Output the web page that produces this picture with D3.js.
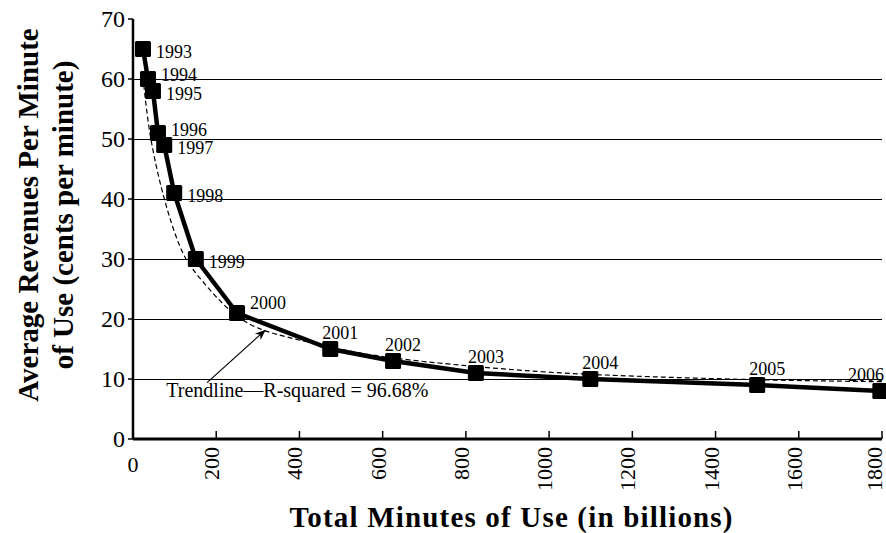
<!DOCTYPE html>
<html>
<head>
<meta charset="utf-8">
<script src="https://cdn.jsdelivr.net/npm/d3@7"></script>
<style>
  body { margin: 0; background: #fff; }
  text { font-family: "Liberation Serif", "DejaVu Serif", serif; }
</style>
</head>
<body>
<div id="chart"></div>
<script>
// data
var years = [1993, 1994, 1995, 1996, 1997, 1998, 1999, 2000, 2001, 2002, 2003, 2004, 2005, 2006];
var minutes = [24, 36, 48, 60, 75, 99, 151, 250, 474, 625, 824, 1099, 1500, 1796];
var revenue = [65, 60, 58, 51, 49, 41, 30, 21, 15, 13, 11, 10, 9, 8];

// the dashed trendline
var trendX = [26, 29, 41, 73, 113, 141, 185, 233, 297, 393, 553, 738, 898, 1082, 1507, 1800];
var trendY = [59, 57, 50, 40, 31.5, 28.4, 24.8, 21.2, 18.2, 16.6, 14, 12.6, 11.6, 10.7, 9.8, 9.55];

var xTicks = [0, 200, 400, 600, 800, 1000, 1200, 1400, 1600, 1800];
var yTicks = [0, 10, 20, 30, 40, 50, 60, 70];
var trendLabel = "Trendline\u2014R-squared = 96.68%";

var data = years.map(function (y, i) {
  return { year: y, x: minutes[i], y: revenue[i] };
});
var trend = trendX.map(function (v, i) { return { x: v, y: trendY[i] }; });

// set the dimensions and margins of the graph
var margin = { top: 19, right: 4, bottom: 94, left: 133 },
  width = 886 - margin.left - margin.right,
  height = 533 - margin.top - margin.bottom;

var x = d3.scaleLinear().domain([0, 1800]).range([0, width]);
var y = d3.scaleLinear().domain([0, 70]).range([height, 0]);

var root = d3.select("#chart").append("svg")
  .attr("width", 886)
  .attr("height", 533);

root.append("defs").append("marker")
  .attr("id", "arrow")
  .attr("viewBox", "0 0 10 10")
  .attr("refX", 9).attr("refY", 5)
  .attr("markerWidth", 9).attr("markerHeight", 9)
  .attr("orient", "auto")
  .append("path")
  .attr("d", "M0,1 L10,5 L0,9 L3,5 Z")
  .attr("fill", "#000");

var svg = root.append("g")
  .attr("transform", "translate(" + margin.left + "," + margin.top + ")");

// gridlines
svg.append("g")
  .selectAll("line")
  .data(yTicks.filter(function (t) { return t > 0 && t < 70; }))
  .enter().append("line")
  .attr("x1", 0).attr("x2", width)
  .attr("y1", function (d) { return y(d) + 0.5; })
  .attr("y2", function (d) { return y(d) + 0.5; })
  .attr("stroke", "#000")
  .attr("stroke-width", 1)
  .attr("shape-rendering", "crispEdges");

// trendline
svg.append("path")
  .datum(trend)
  .attr("fill", "none")
  .attr("stroke", "#000")
  .attr("stroke-width", 1.2)
  .attr("stroke-dasharray", "5,3")
  .attr("d", d3.line()
    .curve(d3.curveBasis)
    .x(function (d) { return x(d.x); })
    .y(function (d) { return y(d.y); }));

// data line
svg.append("path")
  .datum(data)
  .attr("fill", "none")
  .attr("stroke", "#000")
  .attr("stroke-width", 4.5)
  .attr("stroke-linejoin", "round")
  .attr("d", d3.line()
    .x(function (d) { return x(d.x); })
    .y(function (d) { return y(d.y); }));

// square markers
svg.selectAll(".pt")
  .data(data)
  .enter().append("rect")
  .attr("class", "pt")
  .attr("x", function (d) { return x(d.x) - 8; })
  .attr("y", function (d) { return y(d.y) - 8; })
  .attr("width", 16).attr("height", 16)
  .attr("rx", 1.5)
  .attr("fill", "#000");

// year labels: right of the point for the steep part, above it afterwards
svg.selectAll(".yr")
  .data(data)
  .enter().append("text")
  .attr("class", "yr")
  .attr("x", function (d) {
    if (d.year <= 2000) return x(d.x) + 13;
    return Math.min(x(d.x) - 8, width - 34);
  })
  .attr("y", function (d) {
    if (d.year === 1994) return y(d.y) + 2;
    if (d.year === 1996) return y(d.y) + 3;
    if (d.year < 2000) return y(d.y) + 9;
    if (d.year === 2000) return y(d.y) - 4;
    return y(d.y) - 10;
  })
  .attr("font-size", 18)
  .text(function (d) { return d.year; });

// trendline annotation
svg.append("line")
  .attr("x1", x(178)).attr("y1", y(9.4))
  .attr("x2", x(317)).attr("y2", y(18.1))
  .attr("stroke", "#000")
  .attr("stroke-width", 1.2)
  .attr("marker-end", "url(#arrow)");

svg.append("text")
  .attr("x", x(80)).attr("y", y(7))
  .attr("font-size", 20)
  .text(trendLabel);

// Add the X Axis
svg.append("line")
  .attr("x1", 0).attr("x2", width)
  .attr("y1", height).attr("y2", height)
  .attr("stroke", "#000").attr("stroke-width", 3);

svg.append("g")
  .selectAll("line")
  .data(xTicks.filter(function (t) { return t > 0; }))
  .enter().append("line")
  .attr("x1", function (d) { return x(d); })
  .attr("x2", function (d) { return x(d); })
  .attr("y1", height).attr("y2", height - 8)
  .attr("stroke", "#000").attr("stroke-width", 1.5);

svg.append("g")
  .selectAll("text")
  .data(xTicks)
  .enter().append("text")
  .attr("font-size", 22)
  .attr("transform", function (d) {
    if (d === 0) return "translate(" + x(d) + "," + (height + 33) + ")";
    return "translate(" + Math.min(x(d) + 3, width) + "," + (height + 8) + ") rotate(-90)";
  })
  .attr("text-anchor", function (d) { return d === 0 ? "middle" : "end"; })
  .text(function (d) { return d; });

// Add the Y Axis
svg.append("line")
  .attr("x1", 0).attr("x2", 0)
  .attr("y1", 0).attr("y2", height)
  .attr("stroke", "#000").attr("stroke-width", 2.5);

svg.append("g")
  .selectAll("line")
  .data(yTicks)
  .enter().append("line")
  .attr("x1", -5).attr("x2", 0)
  .attr("y1", function (d) { return y(d); })
  .attr("y2", function (d) { return y(d); })
  .attr("stroke", "#000").attr("stroke-width", 1.5);

svg.append("g")
  .selectAll("text")
  .data(yTicks)
  .enter().append("text")
  .attr("x", -8)
  .attr("y", function (d) { return y(d) + 8; })
  .attr("text-anchor", "end")
  .attr("font-size", 24)
  .text(function (d) { return d; });

// axis titles
root.append("text")
  .attr("x", 511)
  .attr("y", 527)
  .attr("text-anchor", "middle")
  .attr("font-size", 29)
  .attr("font-weight", "bold")
  .attr("textLength", 443)
  .attr("lengthAdjust", "spacing")
  .text("Total Minutes of Use (in billions)");

var yTitle = root.append("text")
  .attr("transform", "translate(0,215) rotate(-90)")
  .attr("text-anchor", "middle")
  .attr("font-size", 29)
  .attr("font-weight", "bold");
yTitle.append("tspan").attr("x", 0).attr("y", 38).text("Average Revenues Per Minute");
yTitle.append("tspan").attr("x", 0).attr("y", 73).text("of Use (cents per minute)");
</script>
</body>
</html>
